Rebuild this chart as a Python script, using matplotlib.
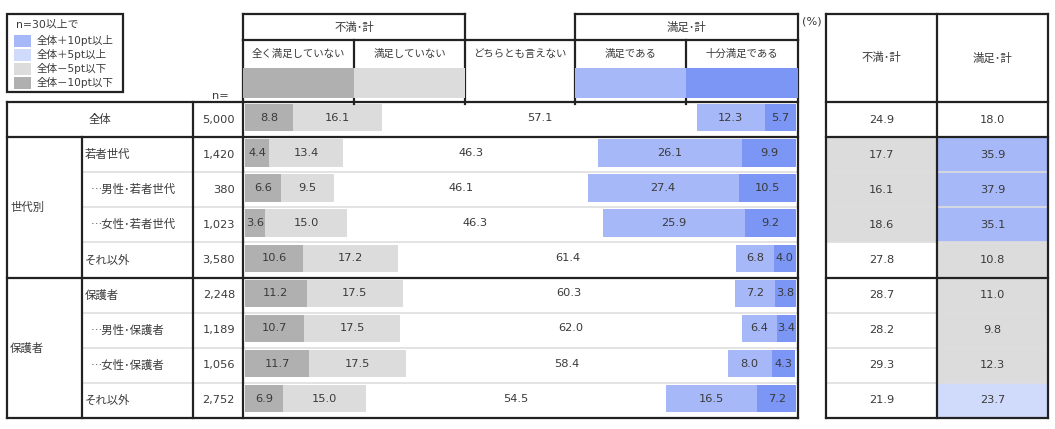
import matplotlib
matplotlib.use("Agg")
import matplotlib.pyplot as plt
from matplotlib.patches import Rectangle

plt.rcParams['font.family'] = ['DejaVu Sans', 'Noto Sans CJK JP']

# ---------------- data ----------------
col_labels = ["全く満足していない", "満足していない", "どちらとも言えない", "満足である", "十分満足である"]
group_labels = ["世代別", "保護者"]
row_labels = ["全体", "若者世代", "…男性･若者世代", "…女性･若者世代", "それ以外",
              "保護者", "…男性･保護者", "…女性･保護者", "それ以外"]
row_n = [5000, 1420, 380, 1023, 3580, 2248, 1189, 1056, 2752]
v_very_dis = [8.8, 4.4, 6.6, 3.6, 10.6, 11.2, 10.7, 11.7, 6.9]
v_dis = [16.1, 13.4, 9.5, 15.0, 17.2, 17.5, 17.5, 17.5, 15.0]
v_neutral = [57.1, 46.3, 46.1, 46.3, 61.4, 60.3, 62.0, 58.4, 54.5]
v_sat = [12.3, 26.1, 27.4, 25.9, 6.8, 7.2, 6.4, 8.0, 16.5]
v_very_sat = [5.7, 9.9, 10.5, 9.2, 4.0, 3.8, 3.4, 4.3, 7.2]
tot_dis = [24.9, 17.7, 16.1, 18.6, 27.8, 28.7, 28.2, 29.3, 21.9]
tot_sat = [18.0, 35.9, 37.9, 35.1, 10.8, 11.0, 9.8, 12.3, 23.7]
legend_labels = ["全体＋10pt以上", "全体＋5pt以上", "全体－5pt以下", "全体－10pt以下"]

# ---------------- style ----------------
W, H = 1055, 429
TXT = '#3a3a3a'
LINE = '#222222'
THIN = '#dedede'
C_VDIS = '#b0b0b0'
C_DIS = '#dcdcdc'
C_SAT = '#a6b8f8'
C_VSAT = '#7b96f5'
HL = ['#a6b8f8', '#d0dbfc', '#dcdcdc', '#b0b0b0']
FS = 8.2
LW = 1.6
CJK = ['Noto Sans CJK JP', 'DejaVu Sans']

fig = plt.figure(figsize=(W / 100, H / 100), dpi=100)

def fx(px):
    return px / W

def fy(py):
    return 1 - py / H

TOP, BOT = 102, 418
nrows = len(row_labels)

# ---------------- bar axes ----------------
BX0, BX1 = 245, 796
axb = fig.add_axes([fx(BX0), fy(BOT), fx(BX1 - BX0), (BOT - TOP) / H])
axb.set_xlim(0, 100)
axb.set_ylim(nrows, 0)
axb.axis('off')
segs = [v_very_dis, v_dis, v_neutral, v_sat, v_very_sat]
cols = [C_VDIS, C_DIS, 'none', C_SAT, C_VSAT]
for i in range(nrows):
    left = 0.0
    yc = i + 0.45
    for s, c in zip(segs, cols):
        w = s[i]
        if c != 'none':
            axb.barh(yc, w, left=left, height=0.78, color=c, edgecolor='none')
        axb.text(left + w / 2, yc, f"{w:.1f}", ha='center', va='center',
                 fontsize=FS, color=TXT)
        left += w

# ---------------- right table axes ----------------
RX0, RX1 = 826, 1048
axr = fig.add_axes([fx(RX0), fy(BOT), fx(RX1 - RX0), (BOT - TOP) / H])
axr.set_xlim(0, 2)
axr.set_ylim(nrows, 0)
axr.axis('off')

def level_color(v, base):
    d = round(v - base, 1)
    if d >= 10:
        return HL[0]
    if d >= 5:
        return HL[1]
    if d <= -10:
        return HL[3]
    if d <= -5:
        return HL[2]
    return 'white'

for j, vals in enumerate([tot_dis, tot_sat]):
    for i, v in enumerate(vals):
        c = 'white' if i == 0 else level_color(v, vals[0])
        axr.add_patch(Rectangle((j, i), 1, 1, facecolor=c, edgecolor='none'))
        axr.text(j + 0.5, i + 0.5, f"{v:.1f}", ha='center', va='center',
                 fontsize=FS, color=TXT)

# ---------------- overlay (layout) ----------------
ax0 = fig.add_axes([0, 0, 1, 1])
ax0.set_xlim(0, W)
ax0.set_ylim(H, 0)
ax0.axis('off')
ax0.patch.set_alpha(0)

def hline(y, x0, x1, thick=True):
    ax0.plot([x0, x1], [y, y], color=LINE if thick else THIN,
             lw=LW if thick else 1.2, solid_capstyle='projecting', zorder=5 if thick else 3)

def vline(x, y0, y1, thick=True):
    ax0.plot([x, x], [y0, y1], color=LINE if thick else THIN,
             lw=LW if thick else 1.2, solid_capstyle='projecting', zorder=5 if thick else 3)

def t(x, y, s, ha='center', fs=FS, **kw):
    ax0.text(x, y, s, ha=ha, va='center', fontsize=fs, color=kw.pop('color', TXT), **kw)

# legend box
ax0.add_patch(Rectangle((7, 14), 116, 78, facecolor='none', edgecolor=LINE, lw=LW, zorder=5))
t(16, 25, "n=30以上で", ha='left', fs=7.8)
for k, lab in enumerate(legend_labels):
    yc = 41 + 14 * k
    ax0.add_patch(Rectangle((14, yc - 6), 17, 12, facecolor=HL[k], edgecolor='none'))
    t(37, yc, lab, ha='left', fs=7.6)

# header of bar area
HX = [243, 354, 465, 575, 686, 798]
ax0.add_patch(Rectangle((HX[0], 68), HX[1] - HX[0], 30, facecolor=C_VDIS, edgecolor='none', zorder=6))
ax0.add_patch(Rectangle((HX[1], 68), HX[2] - HX[1], 30, facecolor=C_DIS, edgecolor='none', zorder=6))
ax0.add_patch(Rectangle((HX[3], 68), HX[4] - HX[3], 30, facecolor=C_SAT, edgecolor='none', zorder=6))
ax0.add_patch(Rectangle((HX[4], 68), HX[5] - HX[4], 30, facecolor=C_VSAT, edgecolor='none', zorder=6))
hline(14, HX[0], HX[2])
hline(14, HX[3], HX[5])
hline(40, HX[0], HX[5])
for x in HX:
    vline(x, 40, 104 if x not in (HX[0], HX[5]) else 100)
vline(HX[0], 14, 40)
vline(HX[2], 14, 40)
vline(HX[3], 14, 40)
vline(HX[5], 14, 40)
t((HX[0] + HX[2]) / 2, 27, "不満･計")
t((HX[3] + HX[5]) / 2, 27, "満足･計")
for k, lab in enumerate(col_labels):
    t((HX[k] + HX[k + 1]) / 2, 54, lab, fs=7.5)
t(802, 22, "(%)", ha='left')
t(212, 96, "n=", ha='left')

# main table grid
ROWH = (BOT - TOP) / nrows
ry = [TOP + ROWH * i for i in range(nrows + 1)]
for i in range(1, nrows):
    if i in (1, 5):
        continue
    hline(ry[i], 82, 798, thick=False)
    hline(ry[i], RX0, RX1, thick=False)
for i in (0, 1, 5, nrows):
    hline(ry[i], 7, 798)
    hline(ry[i], RX0, RX1)
hline(14, RX0, RX1)
vline(7, TOP, BOT)
vline(82, ry[1], BOT)
vline(193, TOP, BOT)
vline(243, TOP, BOT)
vline(798, TOP, BOT)
vline(RX0, 14, BOT)
vline((RX0 + RX1) / 2, 14, BOT)
vline(RX1, 14, BOT)
t((RX0 + (RX0 + RX1) / 2) / 2, 58, "不満･計")
t(((RX0 + RX1) / 2 + RX1) / 2, 58, "満足･計")

# row labels
for i, lab in enumerate(row_labels):
    yc = (ry[i] + ry[i + 1]) / 2
    if i == 0:
        t((7 + 193) / 2, yc, lab)
    elif lab.startswith("…"):
        t(91, yc, lab, ha='left', family=CJK)
    else:
        t(85, yc, lab, ha='left')
    t(235, yc, f"{row_n[i]:,}", ha='right')
t(10, (ry[1] + ry[5]) / 2, group_labels[0], ha='left')
t(10, (ry[5] + ry[9]) / 2, group_labels[1], ha='left')

fig.savefig("out.png", dpi=100)
